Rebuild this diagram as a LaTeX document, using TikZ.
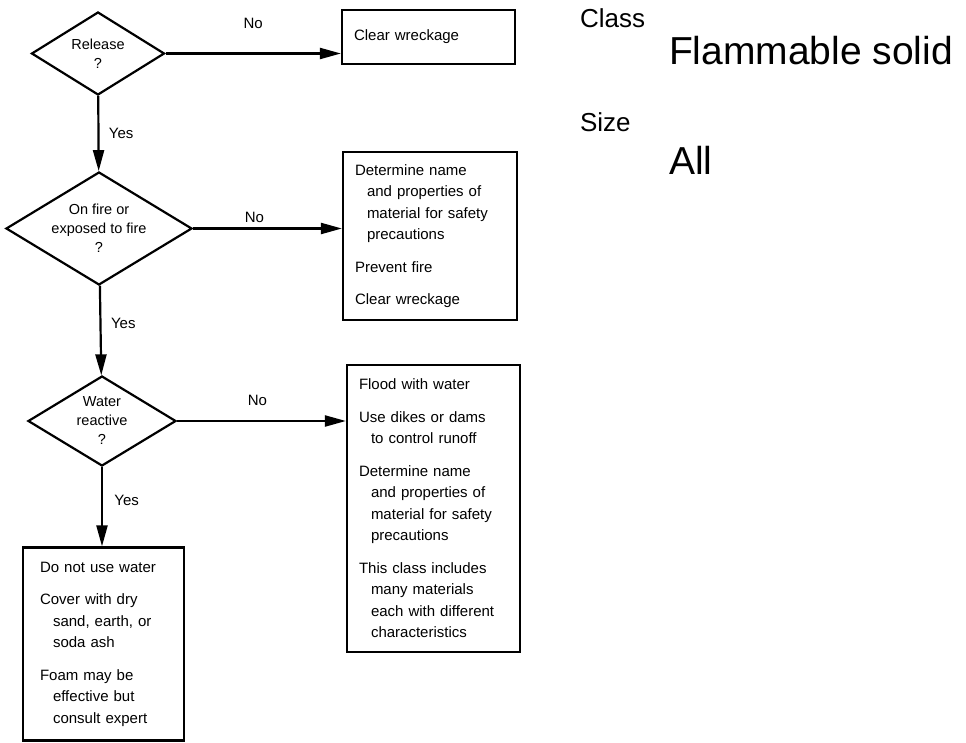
\documentclass[tikz,border=0pt]{standalone}
\usepackage{fontspec}
\setmainfont{Liberation Sans}
\usepackage{tikz}
\usetikzlibrary{shapes,arrows.meta,positioning}

\begin{document}
\begin{tikzpicture}[x=1pt, y=-1pt, line width=2.2pt,
                    >={Triangle[length=21pt,width=11pt]}]
\tikzstyle{every node}=[font=\fontsize{15}{21.5}\selectfont]
\tikzstyle{ask}=[diamond, draw, aspect=1.65, inner sep=0pt, align=center,
                 font=\fontsize{14.5}{19}\selectfont]
\tikzstyle{todo}=[rectangle, draw, inner xsep=12pt, align=left]
\tikzstyle{side}=[anchor=base west, inner sep=0pt]
\useasboundingbox (0,0) rectangle (966,743);
\node[ask, minimum width=133pt, minimum height=83pt] (rel) at (98,53.5) {Release\\?};
\node[ask, minimum width=186pt, minimum height=113pt] (fire) at (99,228.5) {On fire or\\exposed to fire\\?};
\node[ask, minimum width=148pt, minimum height=90pt] (wat) at (102,421) {Water\\reactive\\?};
\node[todo, text width=149pt, minimum height=54pt] (clear) at (428.5,37) {Clear wreckage};
\node[todo, text width=150pt, minimum height=168pt] (nofire) at (430,236)
  {Determine name\\\hspace*{12pt}and properties of\\\hspace*{12pt}material for safety\\\hspace*{12pt}precautions\\[11pt]
   Prevent fire\\[11pt]Clear wreckage};
\node[todo, text width=149pt, minimum height=287pt] (flood) at (433.5,508.5)
  {Flood with water\\[11pt]Use dikes or dams\\\hspace*{12pt}to control runoff\\[11pt]
   Determine name\\\hspace*{12pt}and properties of\\\hspace*{12pt}material for safety\\\hspace*{12pt}precautions\\[11pt]
   This class includes\\\hspace*{12pt}many materials\\\hspace*{12pt}each with different\\\hspace*{12pt}characteristics};
\node[todo, inner xsep=17pt, text width=127pt, minimum height=193pt] (dont) at (103.5,644)
  {Do not use water\\[11pt]Cover with dry\\\hspace*{13pt}sand, earth, or\\\hspace*{13pt}soda ash\\[11pt]
   Foam may be\\\hspace*{13pt}effective but\\\hspace*{13pt}consult expert};
\node[side, font=\fontsize{26}{30}\selectfont] (cls) at (579,28) {Class};
\node[side, font=\fontsize{39}{44}\selectfont] (flam) at (668,65) {Flammable solid};
\node[side, font=\fontsize{26}{30}\selectfont] (size) at (579,132) {Size};
\node[side, font=\fontsize{39}{44}\selectfont] (all) at (668,175) {All};
\draw[->] (rel) -- (clear.west |- rel) node[midway, yshift=30pt] {No};
\draw[->] (fire) -- (nofire.west |- fire) node[midway, xshift=-13pt, yshift=11pt] {No};
\draw[->] (wat) -- (flood.west |- wat) node[midway, xshift=-4pt, yshift=21pt] {No};
\draw[->] (rel) -- (fire) node[midway, right=6pt] {Yes};
\draw[->] (fire) -- (wat) node[midway, right=6pt, yshift=7pt] {Yes};
\draw[->] (wat) -- (wat |- dont.north) node[midway, right=8pt, yshift=6pt] {Yes};
\end{tikzpicture}
\end{document}
